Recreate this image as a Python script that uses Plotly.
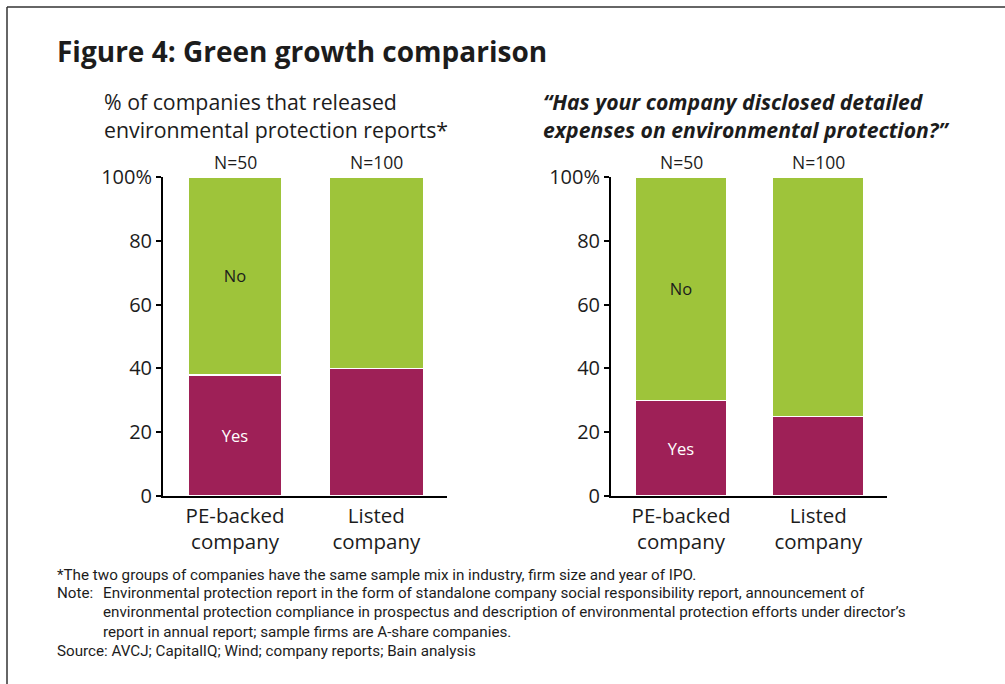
import plotly.graph_objects as go

# Data
categories = ["PE-backed", "Listed"]
category_labels = ["PE-backed<br>company", "Listed<br>company"]
sample_sizes = ["N=50", "N=100"]

reports_yes = [38, 40]
reports_no = [62, 60]

disclosed_yes = [30, 25]
disclosed_no = [70, 75]

y_ticks = [0, 20, 40, 60, 80, 100]
y_tick_text = ["0", "20", "40", "60", "80", "100%"]

GREEN = "#9EC43A"
MAROON = "#9E2057"
INK = "#1c1c1c"
FONT = "Open Sans"

W, H = 1005, 684


def px(x):
    return x / W


def py(y):
    return 1 - y / H


fig = go.Figure()

panels = [
    ("x", "y", reports_yes, reports_no),
    ("x2", "y2", disclosed_yes, disclosed_no),
]
for xa, ya, yes, no in panels:
    fig.add_bar(
        x=categories, y=yes, xaxis=xa, yaxis=ya, name="Yes",
        marker=dict(color=MAROON, line=dict(color="white", width=1.5)),
        width=0.665,
        text=["Yes", ""], textposition="inside", insidetextanchor="middle",
        textangle=0, constraintext="none",
        textfont=dict(family=FONT, size=16.5, color="white"),
        hoverinfo="skip",
    )
    fig.add_bar(
        x=categories, y=no, xaxis=xa, yaxis=ya, name="No",
        marker=dict(color=GREEN, line=dict(color="white", width=1.5)),
        width=0.665,
        text=["No", ""], textposition="inside", insidetextanchor="middle",
        textangle=0, constraintext="none",
        textfont=dict(family=FONT, size=16.5, color=INK),
        hoverinfo="skip",
    )

axis_common_x = dict(
    type="category", categoryorder="array", categoryarray=categories,
    tickvals=categories, ticktext=category_labels,
    range=[-0.51, 1.5], showline=True, linecolor="black", linewidth=2,
    ticks="", showgrid=False, zeroline=False, automargin=False,
    tickfont=dict(family=FONT, size=20.5, color=INK),
    fixedrange=True,
)
axis_common_y = dict(
    range=[0, 100], tickvals=y_ticks, ticktext=y_tick_text,
    showline=True, linecolor="black", linewidth=2,
    ticks="outside", ticklen=5, tickwidth=2, tickcolor="black",
    showgrid=False, zeroline=False, automargin=False,
    tickfont=dict(family=FONT, size=20, color=INK),
    fixedrange=True,
)

fig.update_layout(
    width=W, height=H, autosize=False,
    margin=dict(l=0, r=0, t=0, b=0, pad=0),
    paper_bgcolor="white", plot_bgcolor="white",
    barmode="stack", showlegend=False,
    xaxis=dict(domain=[px(163), px(447)], anchor="y", **axis_common_x),
    yaxis=dict(domain=[py(496), py(177)], anchor="x", **axis_common_y),
    xaxis2=dict(domain=[px(611), px(887)], anchor="y2", **axis_common_x),
    yaxis2=dict(domain=[py(496), py(177)], anchor="x2", **axis_common_y),
    font=dict(family=FONT, color=INK),
)

# Sample size labels above the bars
for xa, ya in [("x", "y"), ("x2", "y2")]:
    for cat, n in zip(categories, sample_sizes):
        fig.add_annotation(
            x=cat, y=100, xref=xa, yref=ya, text=n, showarrow=False,
            yanchor="bottom", yshift=1,
            font=dict(family=FONT, size=17.5, color=INK),
        )

# Title and panel headings
fig.add_annotation(
    x=px(55), y=py(51), xref="paper", yref="paper", xanchor="left", yanchor="middle",
    text="<b>Figure 4: Green growth comparison</b>", showarrow=False,
    font=dict(family=FONT, size=28, color=INK),
)
fig.add_annotation(
    x=px(102), y=py(115), xref="paper", yref="paper", xanchor="left", yanchor="middle",
    align="left", showarrow=False,
    text="% of companies that released<br>environmental protection reports*",
    font=dict(family=FONT, size=21.3, color=INK),
)
fig.add_annotation(
    x=px(541), y=py(115), xref="paper", yref="paper", xanchor="left", yanchor="middle",
    align="left", showarrow=False,
    text="<b><i>\u201cHas your company disclosed detailed<br>"
         "expenses on environmental protection?\u201d</i></b>",
    font=dict(family=FONT, size=21.2, color=INK),
)

# Footnotes
NOTE_FONT = dict(family="Roboto", size=15.2, color=INK)
notes = [
    (55, 575, "*The two groups of companies have the same sample mix in industry, firm size and year of IPO."),
    (55, 593, "Note:"),
    (101, 593, "Environmental protection report in the form of standalone company social responsibility report, announcement of"),
    (101, 612, "environmental protection compliance in prospectus and description of environmental protection efforts under director\u2019s"),
    (101, 632, "report in annual report; sample firms are A-share companies."),
    (55, 651, "Source: AVCJ; CapitalIQ; Wind; company reports; Bain analysis"),
]
for x0, y0, txt in notes:
    fig.add_annotation(
        x=px(x0), y=py(y0), xref="paper", yref="paper", xanchor="left", yanchor="middle",
        text=txt, showarrow=False, font=NOTE_FONT,
    )

# Frame along the top and left edges
fig.add_shape(type="line", xref="paper", yref="paper", x0=px(7), x1=1, y0=py(7), y1=py(7),
              line=dict(color="#333333", width=1.5))
fig.add_shape(type="line", xref="paper", yref="paper", x0=px(7), x1=px(7), y0=py(7), y1=0,
              line=dict(color="#333333", width=1.5))

fig.write_html("out.html", default_width="1005px", default_height="684px",
               config={"responsive": False})
